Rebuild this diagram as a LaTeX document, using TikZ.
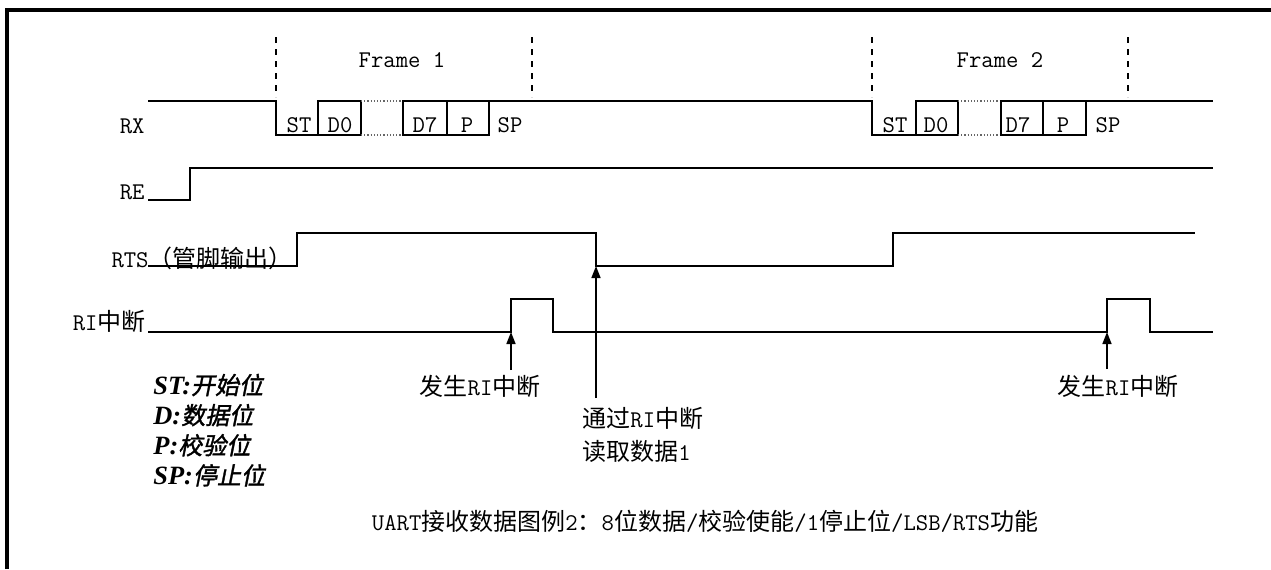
\documentclass[tikz,border=0pt]{standalone}
\usepackage{fontspec}
\setmainfont{Noto Sans CJK SC}
\newfontfamily\legendfont{Noto Sans CJK SC}[FakeSlant=0.2,FakeBold=1.5]
\newfontfamily\legendlatin{Liberation Serif}[Scale=1.1]
\usepackage{tikz}
\usetikzlibrary{arrows.meta, positioning}

\begin{document}
\begin{tikzpicture}[
  x=0.5pt, y=-0.5pt,
  font=\fontsize{12}{14}\selectfont,
  sig/.style={line width=0.8pt},
  gap/.style={densely dotted, line width=0.6pt, black!60},
  frameline/.style={dashed, line width=0.6pt},
  lbl/.style={inner sep=0pt, font=\fontsize{12}{14}\selectfont},
  bitlbl/.style={inner sep=0pt, font=\ttfamily\fontsize{12}{14}\selectfont},
  legend/.style={inner sep=0pt, font=\legendfont\fontsize{12}{14}\selectfont},
  evt/.style={line width=0.8pt, -{Triangle[length=6pt,width=4.5pt]}}
]
\useasboundingbox (0,0) rectangle (1271,569);
\draw[line width=2pt] (7,569) -- (7,10) -- (1271,10);

% signal names
\node[lbl, anchor=east] (rx)  at (145,126) {\texttt{RX}};
\node[lbl, anchor=east] (re)  at (145,192) {\texttt{RE}};
\node[lbl, anchor=east] (rts) at (293,258) {\texttt{RTS}（管脚输出）};
\node[lbl, anchor=east] (ri)  at (146,321) {\texttt{RI}中断};

% frame 1
\draw[frameline] (276,37) -- (276,97);
\draw[frameline] (532,37) -- (532,97);
\node[bitlbl] (f1) at (402,60) {Frame 1};
\draw[sig] (148,101) -| (276,135) -- (361,135);
\draw[sig] (318,135) |- (361,101) -- (361,135);
\draw[gap] (361,101) -- (403,101) (361,135) -- (403,135);
\draw[sig] (403,135) rectangle (489,101);
\draw[sig] (447,101) -- (447,135);
\node[bitlbl] (st1) at (299,125) {ST};
\node[bitlbl] (da1) at (340,125) {D0};
\node[bitlbl] (db1) at (425,125) {D7};
\node[bitlbl] (p1)  at (467,125) {P};
\node[bitlbl] (sp1) at (510,125) {SP};

% frame 2
\draw[frameline] (872,37) -- (872,97);
\draw[frameline] (1128,37) -- (1128,97);
\node[bitlbl] (f2) at (1000,60) {Frame 2};
\draw[sig] (489,101) -| (872,135) -- (958,135);
\draw[sig] (916,135) |- (958,101) -- (958,135);
\draw[gap] (958,101) -- (1001,101) (958,135) -- (1001,135);
\draw[sig] (1001,135) rectangle (1086,101);
\draw[sig] (1043,101) -- (1043,135);
\draw[sig] (1086,101) -- (1213,101);
\node[bitlbl] (st2) at (895,125) {ST};
\node[bitlbl] (da2) at (936,125) {D0};
\node[bitlbl] (db2) at (1018,125) {D7};
\node[bitlbl] (p2)  at (1063,125) {P};
\node[bitlbl] (sp2) at (1108,125) {SP};

% RE, RTS, RI
\draw[sig] (148,200) -| (190,168) -- (1213,168);
\draw[sig] (148,266) -| (297,233) -| (596,266) -| (893,233) -- (1195,233);
\draw[sig] (148,332) -| (511,299) -| (553,332) -| (1107,299) -| (1150,332) -- (1213,332);

% interrupt events
\coordinate (int1) at (511,332);
\coordinate (int1s) at (511,370);
\coordinate (rd) at (596,266);
\coordinate (rds) at (596,398);
\coordinate (int2) at (1107,332);
\coordinate (int2s) at (1107,369);
\draw[evt] (int1s) -- (int1);
\draw[evt] (rds) -- (rd);
\draw[evt] (int2s) -- (int2);
\node[lbl] (ev1) at (480,386) {发生\texttt{RI}中断};
\node[lbl] (ev2) at (1118,386) {发生\texttt{RI}中断};
\node[lbl, anchor=west] (rd1) at (582,418) {通过\texttt{RI}中断};
\node[lbl, below=5pt of rd1.south west, anchor=north west] (rd2) {读取数据\texttt{1}};

% legend
\node[legend, anchor=west] (lst) at (153,385) {{\legendlatin\bfseries\itshape ST:}开始位};
\node[legend, below=3.5pt of lst.south west, anchor=north west] (ld) {{\legendlatin\bfseries\itshape D:}数据位};
\node[legend, below=3.5pt of ld.south west, anchor=north west] (lp) {{\legendlatin\bfseries\itshape P:}校验位};
\node[legend, below=3.5pt of lp.south west, anchor=north west] (lsp) {{\legendlatin\bfseries\itshape SP:}停止位};

\node[lbl] (cap) at (705,521) {\texttt{UART}接收数据图例\texttt{2}：\texttt{8}位数据\texttt{/}校验使能\texttt{/1}停止位\texttt{/LSB/RTS}功能};
\end{tikzpicture}
\end{document}
